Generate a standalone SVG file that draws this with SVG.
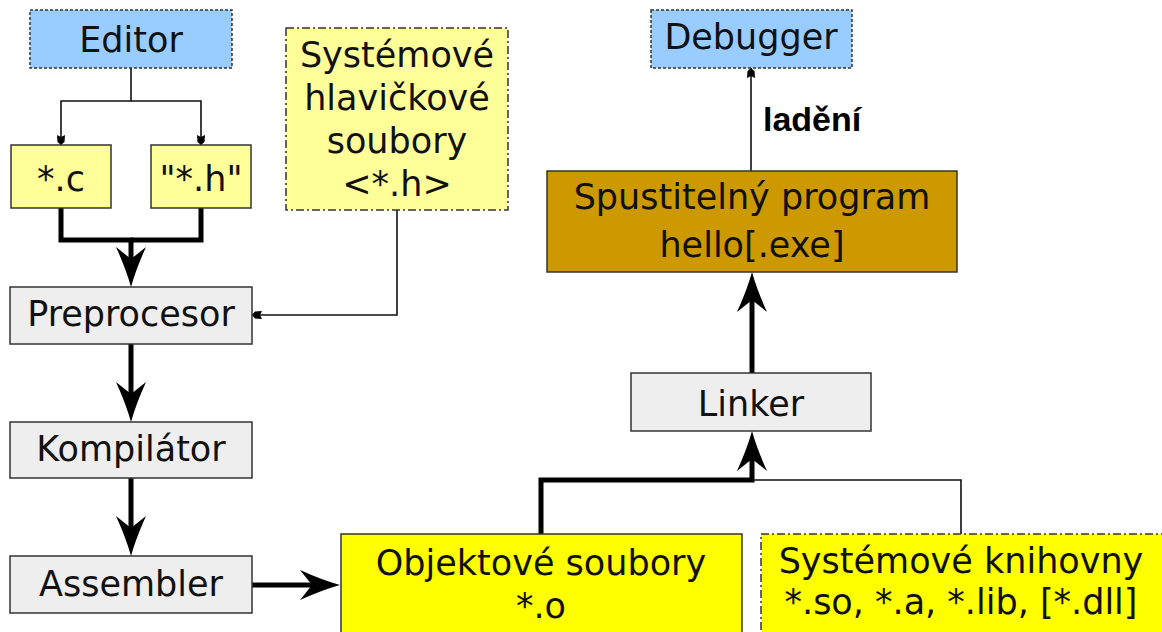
<svg xmlns="http://www.w3.org/2000/svg" width="1162" height="632" viewBox="0 0 1162 632">
<style>
text{font-family:"DejaVu Sans",Verdana,sans-serif;font-size:35px;fill:#111;text-anchor:middle}
.box{stroke:#333;stroke-width:1.5}
.blue{fill:#99ccff;stroke-dasharray:3,2}
.ly{fill:#ffff99}
.y{fill:#ffff00}
.dd{stroke-dasharray:8,3,2,3}
.gray{fill:#eeeeee}
.brown{fill:#cc9900}
.thin{fill:none;stroke:#111;stroke-width:1.6}
.thick{fill:none;stroke:#000;stroke-width:5}
.lbl{font-family:"Liberation Sans",Arial,sans-serif;font-weight:bold;font-size:34px;text-anchor:start;fill:#000}
</style>
<defs>
<marker id="ah" markerUnits="userSpaceOnUse" viewBox="0 -16 42 32" markerWidth="42" markerHeight="32" refX="20" refY="0" orient="auto">
<path d="M40,0 Q22,-5 0,-15 L12,0 L0,15 Q22,5 40,0 Z" fill="#000"/>
</marker>
<marker id="sh" markerUnits="userSpaceOnUse" viewBox="0 -6 12 12" markerWidth="12" markerHeight="12" refX="10" refY="0" orient="auto">
<path d="M0,-4 L7,-3.5 L10,0 L7,3.5 L0,4 L2,0 Z" fill="#000"/>
</marker>
</defs>
<g id="connectors">
<path class="thin" d="M131,68 V101 H61 V145" marker-end="url(#sh)"/>
<path class="thin" d="M131,101 H201 V145" marker-end="url(#sh)"/>
<path class="thick" d="M61,208 V240 H131 V267" marker-end="url(#ah)"/>
<path class="thick" d="M201,208 V240 H131"/>
<path class="thin" d="M397,210 V315 H252" marker-end="url(#sh)"/>
<path class="thick" d="M131,344 V402" marker-end="url(#ah)"/>
<path class="thick" d="M131,478 V536" marker-end="url(#ah)"/>
<path class="thick" d="M252,585 H320" marker-end="url(#ah)"/>
<path class="thick" d="M541,534 V480 H752 V451" marker-end="url(#ah)"/>
<path class="thin" d="M961,534 V480 H752"/>
<path class="thick" d="M752,373 V292" marker-end="url(#ah)"/>
<path class="thin" d="M751,171 V68" marker-end="url(#sh)"/>
<text class="lbl" x="763" y="131">ladění</text>
</g>
<g id="editor"><rect class="box blue" x="30" y="10" width="202" height="58"/><text x="131" y="52">Editor</text></g>
<g id="c"><rect class="box ly" x="11" y="145" width="100" height="63"/><text x="61" y="191">*.c</text></g>
<g id="h"><rect class="box ly" x="151" y="145" width="100" height="63"/><text x="201" y="191">"*.h"</text></g>
<g id="syshead"><rect class="box ly dd" x="286" y="28" width="222" height="182"/>
<text x="397" y="67">Systémové</text><text x="397" y="110">hlavičkové</text><text x="397" y="153">soubory</text><text x="397" y="196">&lt;*.h&gt;</text></g>
<g id="preprocesor"><rect class="box gray" x="10" y="287" width="242" height="57"/><text x="131" y="326">Preprocesor</text></g>
<g id="kompilator"><rect class="box gray" x="10" y="422" width="242" height="56"/><text x="131" y="461">Kompilátor</text></g>
<g id="assembler"><rect class="box gray" x="10" y="556" width="242" height="57"/><text x="131" y="596">Assembler</text></g>
<g id="objektove"><rect class="box y" x="341" y="534" width="401" height="110"/><text x="541" y="575">Objektové soubory</text><text x="541" y="618">*.o</text></g>
<g id="knihovny"><rect class="box y dd" x="761" y="534" width="410" height="110"/><text x="961" y="573">Systémové knihovny</text><text x="961" y="614">*.so, *.a, *.lib, [*.dll]</text></g>
<g id="linker"><rect class="box gray" x="631" y="373" width="240" height="58"/><text x="751" y="416">Linker</text></g>
<g id="spustitelny"><rect class="box brown" x="547" y="171" width="410" height="101"/><text x="752" y="209">Spustitelný program</text><text x="752" y="257">hello[.exe]</text></g>
<g id="debugger"><rect class="box blue" x="651" y="10" width="201" height="58"/><text x="751" y="49">Debugger</text></g>
</svg>
